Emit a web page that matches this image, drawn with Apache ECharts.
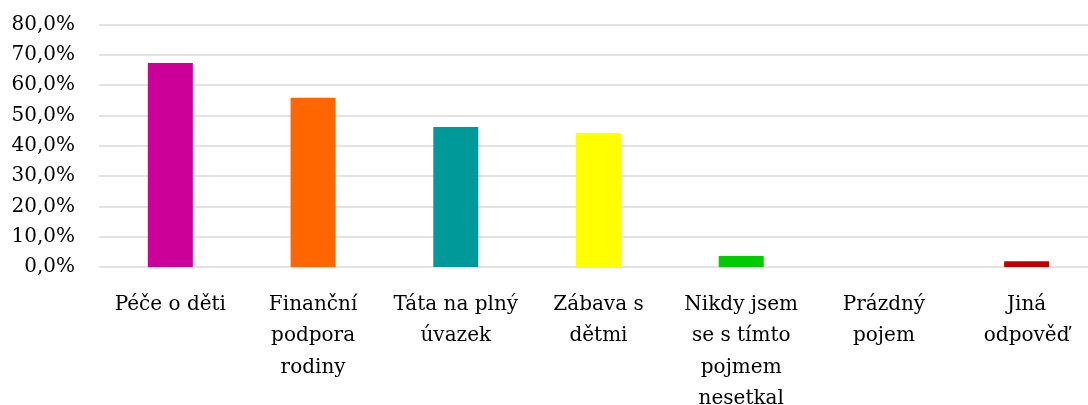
<!DOCTYPE html>
<html>
<head>
  <meta charset="UTF-8">
  <title>Otcovství</title>
  <script src="https://cdn.jsdelivr.net/npm/echarts@6/dist/echarts.min.js"></script>
  <style>
    html, body { margin: 0; padding: 0; background: #fff; }
  </style>
</head>
<body>
  <div id="bar" style="width:1088px; height:405px;"></div>
  <script>
    var categories = ['Péče o děti', 'Finanční\npodpora\nrodiny', 'Táta na plný\núvazek', 'Zábava s\ndětmi',
      'Nikdy jsem\nse s tímto\npojmem\nnesetkal', 'Prázdný\npojem', 'Jiná\nodpověď'];
    var values = [67.3, 55.8, 46.2, 44.2, 3.6, 0, 1.9];
    var colors = ['#cc0099', '#ff6600', '#009999', '#ffff00', '#00cc00', '#7f7f7f', '#c00000'];

    var chart = echarts.init(document.getElementById('bar'), null, {renderer: 'canvas'});
    var font = 'DejaVu Serif';

    chart.setOption({
      animation: false,
      grid: {left: 99, top: 24.5, width: 999, height: 242.5, outerBoundsMode: 'none', containLabel: false},
      xAxis: {
        type: 'category',
        data: categories,
        axisLine: {show: false},
        axisTick: {show: false},
        axisLabel: {
          interval: 0,
          margin: 22,
          color: '#000',
          fontFamily: font,
          fontSize: 20,
          lineHeight: 31.5
        }
      },
      yAxis: {
        type: 'value',
        min: 0,
        max: 80,
        interval: 10,
        axisLabel: {
          margin: 24,
          color: '#000',
          fontFamily: font,
          fontSize: 20,
          formatter: function (v) { return v.toFixed(1).replace('.', ',') + '%'; }
        },
        splitLine: {lineStyle: {color: '#d9d9d9', width: 1.5}}
      },
      series: [{
        type: 'bar',
        barWidth: 45,
        data: values.map(function (v, i) {
          return {value: v, itemStyle: {color: colors[i]}};
        })
      }]
    });
  </script>
</body>
</html>
